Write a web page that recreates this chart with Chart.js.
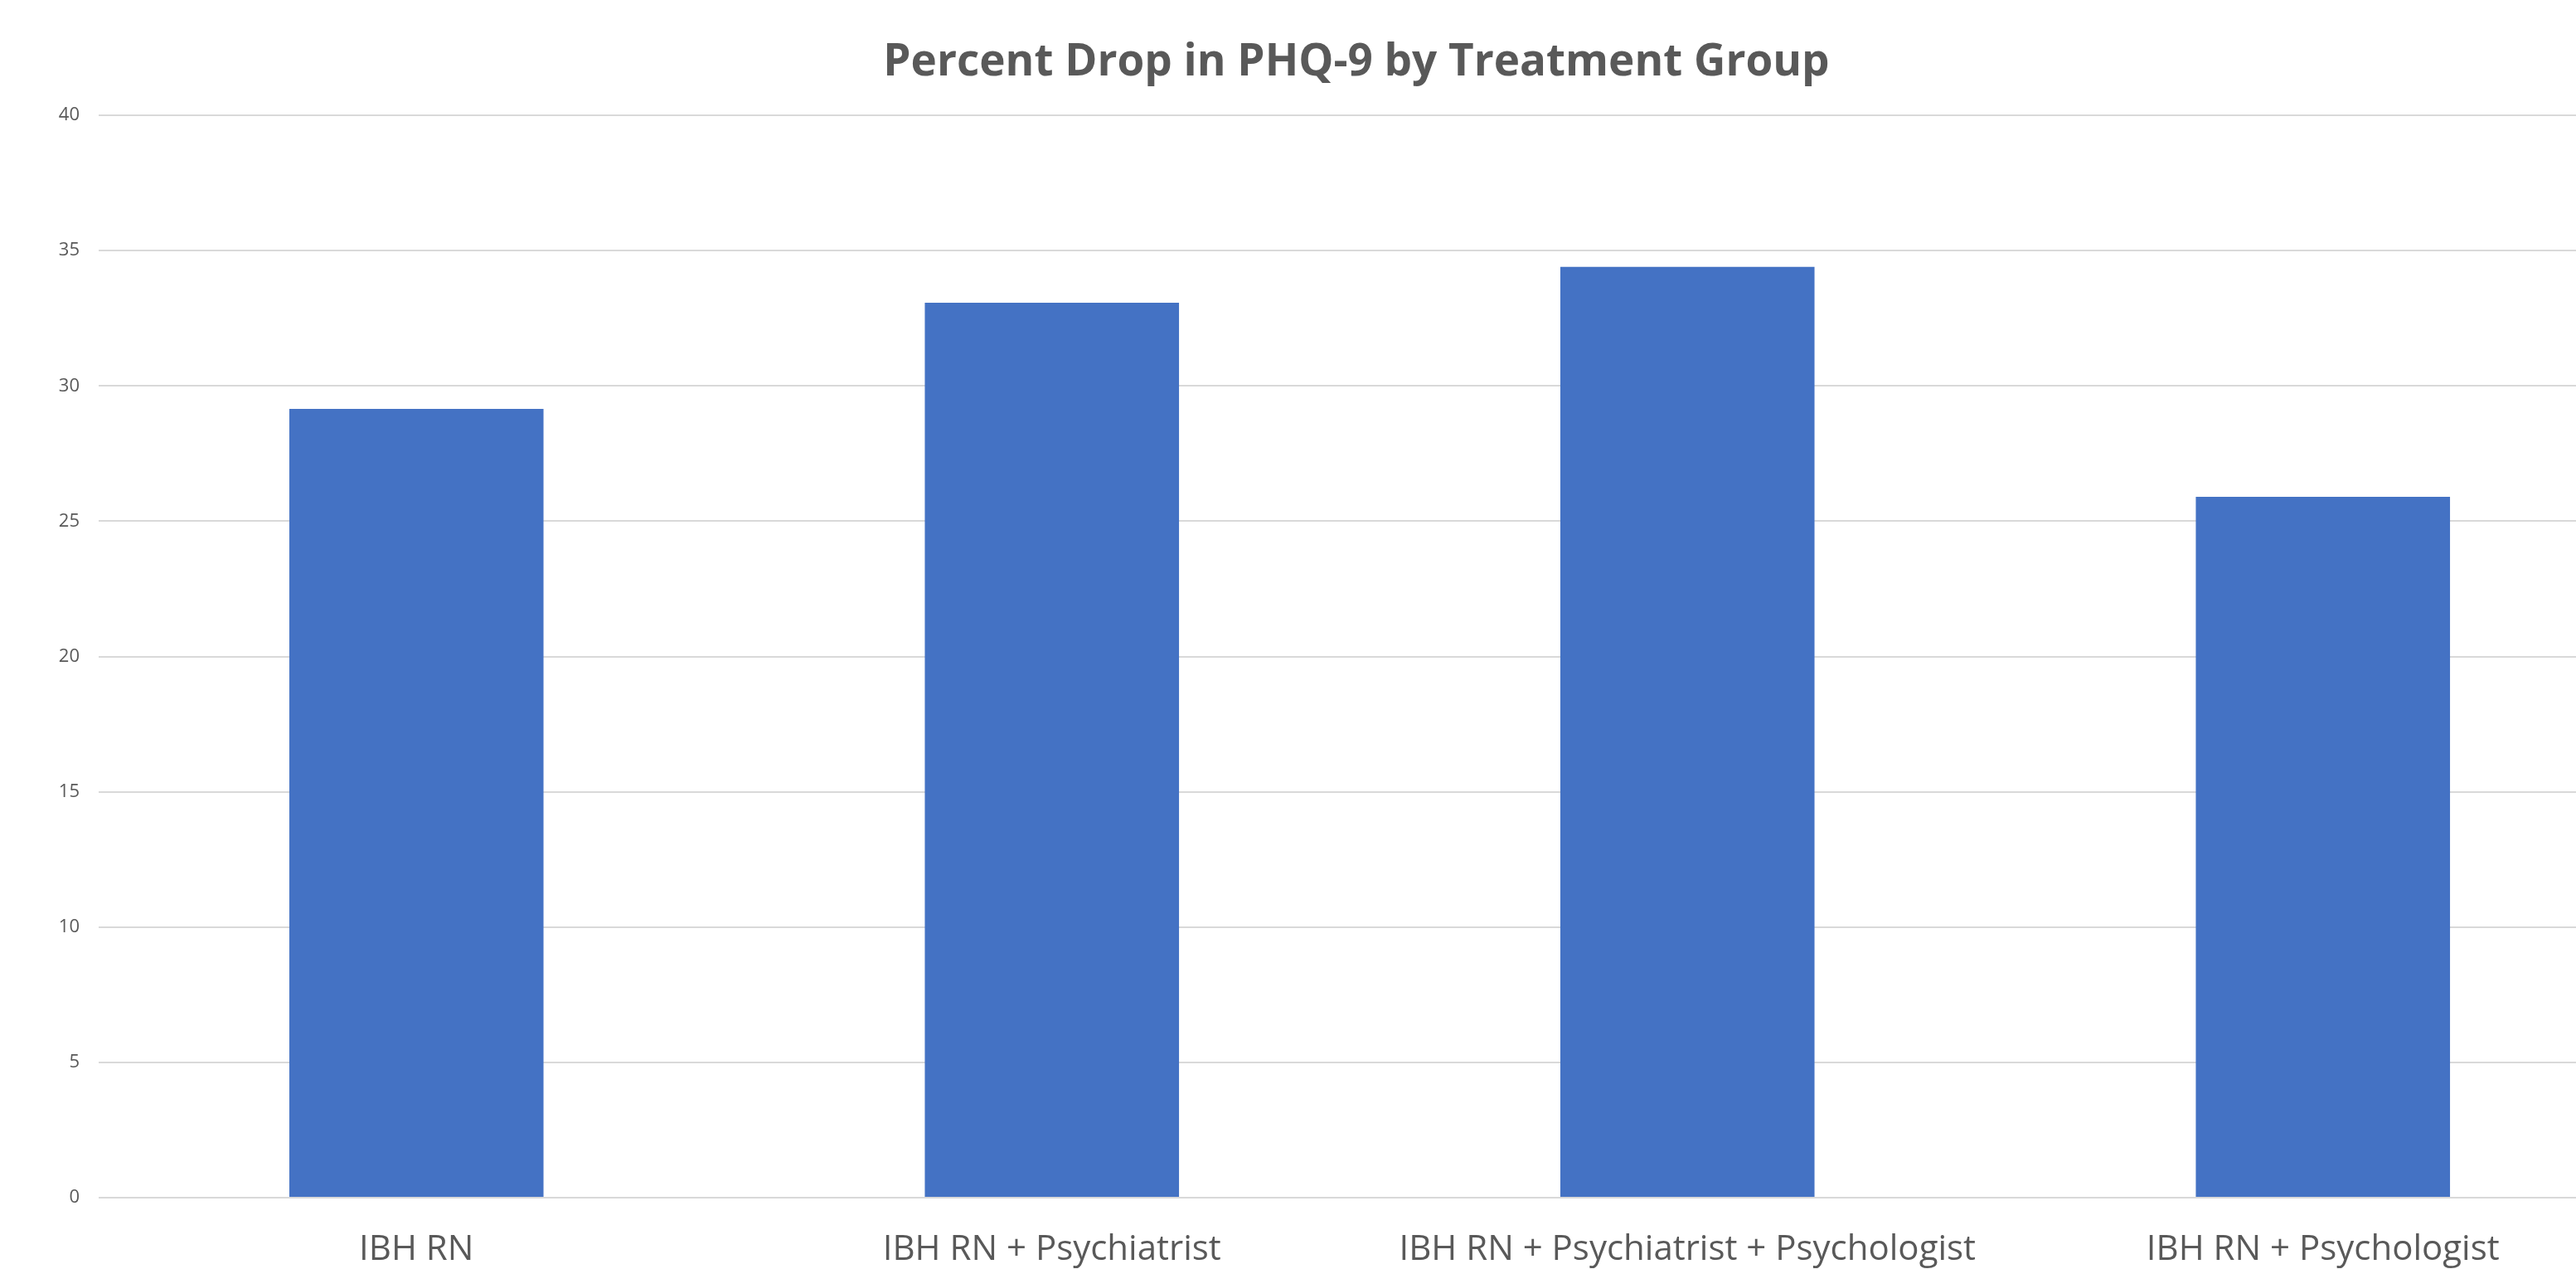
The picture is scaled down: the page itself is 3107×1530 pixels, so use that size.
<!DOCTYPE html>
<html>
<head>
<meta charset="utf-8">
<script src="https://cdn.jsdelivr.net/npm/chart.js@4.4.0/dist/chart.umd.min.js"></script>
<style>
  html, body { margin: 0; padding: 0; overflow: hidden; background: #fff; }
  #wrap { width: 3272px; height: 1530px; }
</style>
</head>
<body>
<div id="wrap"><canvas id="phqChart"></canvas></div>
<script>
const categories = ['IBH RN', 'IBH RN + Psychiatrist', 'IBH RN + Psychiatrist + Psychologist', 'IBH RN + Psychologist'];
const percentDrop = [29.15, 33.07, 34.4, 25.9];
const yTicks = [0, 5, 10, 15, 20, 25, 30, 35, 40];

const textGrey = '#595959';

const ctx = document.getElementById('phqChart').getContext('2d');
const chart = new Chart(ctx, {
    type: 'bar',
    data: {
        labels: categories,
        datasets: [{
            label: 'Percent Drop',
            data: percentDrop,
            backgroundColor: '#4472c4',
            borderWidth: 0,
            barPercentage: 0.4,
            categoryPercentage: 1.0
        }]
    },
    options: {
        responsive: true,
        maintainAspectRatio: false,
        animation: false,
        layout: { padding: 0 },
        plugins: {
            legend: { display: false },
            tooltip: { enabled: false },
            title: {
                display: true,
                text: 'Percent Drop in PHQ-9 by Treatment Group',
                color: textGrey,
                font: { family: 'Open Sans', size: 53, weight: '700' },
                padding: { top: 44, bottom: 31.4 }
            }
        },
        scales: {
            x: {
                grid: { display: false, drawTicks: false },
                border: { display: false },
                ticks: {
                    color: textGrey,
                    font: { family: 'Open Sans', size: 42 },
                    padding: 38,
                    maxRotation: 0,
                    autoSkip: false
                },
                afterFit: (scale) => { scale.height = 86; }
            },
            y: {
                min: yTicks[0],
                max: yTicks[yTicks.length - 1],
                afterBuildTicks: (scale) => { scale.ticks = yTicks.map(v => ({ value: v })); },
                grid: { color: '#d9d9d9', lineWidth: 2, drawTicks: false },
                border: { display: false },
                ticks: {
                    color: textGrey,
                    font: { family: 'Open Sans', size: 22 },
                    padding: 23
                },
                afterFit: (scale) => { scale.width = 119; }
            },
            // empty right-hand axis: keeps the plot cut by the window edge while the title stays centred on the page
            spacer: {
                type: 'linear',
                position: 'right',
                grid: { drawOnChartArea: false, drawTicks: false },
                border: { display: false },
                ticks: { display: false },
                afterFit: (scale) => { scale.width = 87; }
            }
        }
    }
});
</script>
</body>
</html>
